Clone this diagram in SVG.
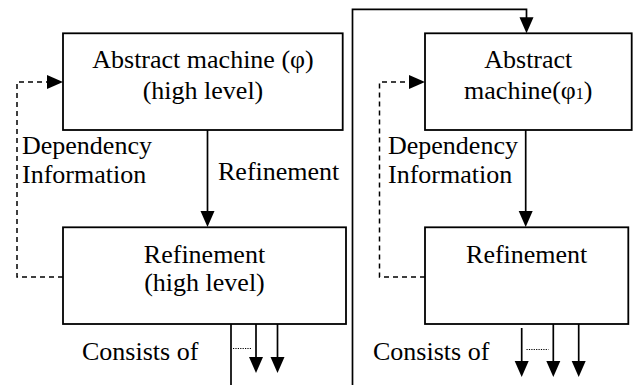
<svg xmlns="http://www.w3.org/2000/svg" width="633" height="385" viewBox="0 0 633 385">
<defs>
<style>
.box{fill:#fff;stroke:#000;stroke-width:1.8}
.ln{fill:none;stroke:#000;stroke-width:1.7}
.dash{fill:none;stroke:#000;stroke-width:1.5;stroke-dasharray:5,4}
.dot{fill:none;stroke:#000;stroke-width:1;stroke-dasharray:1.2,1.2}
.ah{fill:#000}
text{font-family:"Liberation Serif","Times New Roman",serif;font-size:26px;fill:#000}
.c{text-anchor:middle}
</style>
<path id="ahd" class="ah" d="M-7,-16 L7,-16 L0,0 z"/>
<path id="ahr" class="ah" d="M-16,-7 L0,0 L-16,7 z"/>
</defs>
<g id="connectors">
<path class="dash" d="M63,277 H17 V82 H50"/>
<use href="#ahr" x="63" y="82"/>
<path class="ln" d="M207.5,130 V213"/>
<use href="#ahd" x="207.5" y="227"/>
<path class="ln" d="M231,324 V385"/>
<path class="dot" d="M233,348.5 H251"/>
<path class="ln" d="M256,324 V360"/>
<use href="#ahd" x="256" y="373"/>
<path class="ln" d="M277.5,324 V360"/>
<use href="#ahd" x="277.5" y="373"/>
<path class="ln" d="M352.5,385 V9.3 H526.5 V20"/>
<use href="#ahd" x="526.5" y="33.3"/>
<path class="dash" d="M425,277 H379.5 V82 H412"/>
<use href="#ahr" x="425" y="82"/>
<path class="ln" d="M525.7,130 V213"/>
<use href="#ahd" x="525.7" y="227"/>
<path class="ln" d="M521.7,328 V364"/>
<use href="#ahd" x="521.7" y="377"/>
<path class="dot" d="M526.5,349.5 H548.5"/>
<path class="ln" d="M553.3,324 V364"/>
<use href="#ahd" x="553.3" y="377"/>
<path class="ln" d="M578.7,324 V364"/>
<use href="#ahd" x="578.7" y="377"/>
</g>
<g id="abstract-machine-high">
<rect class="box" x="63" y="33.3" width="279.7" height="96.7"/>
<text class="c" x="203" y="68">Abstract machine (φ)</text>
<text class="c" x="203" y="99">(high level)</text>
</g>
<g id="refinement-high">
<rect class="box" x="63" y="227.3" width="283" height="96.7"/>
<text class="c" x="204.5" y="263">Refinement</text>
<text class="c" x="204.5" y="291">(high level)</text>
</g>
<g id="abstract-machine-1">
<rect class="box" x="425" y="33.3" width="206.7" height="96.7"/>
<text class="c" x="528.3" y="68">Abstract</text>
<text class="c" x="528.3" y="99">machine(φ<tspan font-size="16">1</tspan>)</text>
</g>
<g id="refinement-1">
<rect class="box" x="425" y="227.3" width="203.3" height="96.7"/>
<text class="c" x="526.7" y="263">Refinement</text>
</g>
<g id="labels">
<text x="22" y="154">Dependency</text>
<text x="22" y="183">Information</text>
<text x="218" y="180">Refinement</text>
<text x="82" y="360">Consists of</text>
<text x="388" y="154">Dependency</text>
<text x="388" y="183">Information</text>
<text x="373" y="360">Consists of</text>
</g>
</svg>
